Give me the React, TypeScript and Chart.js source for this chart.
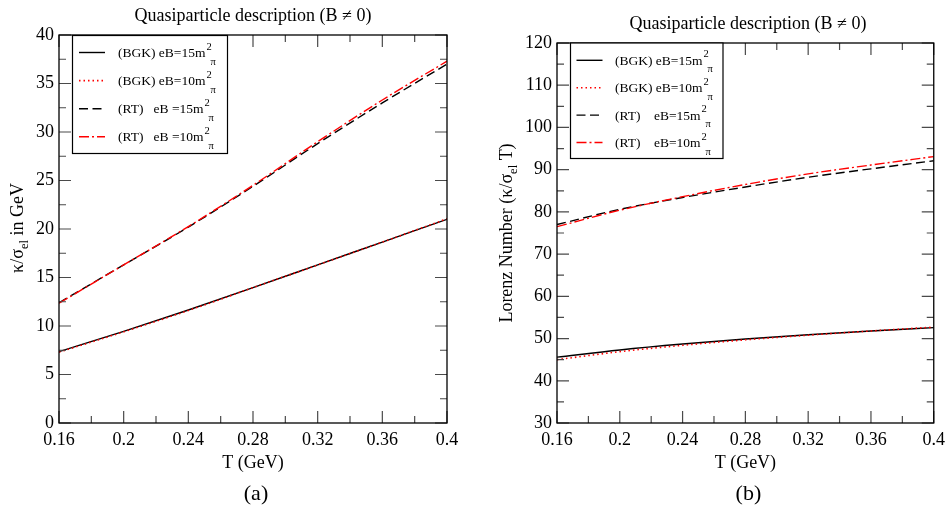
import React, { useEffect, useRef } from "react";
import { Chart, registerables } from "chart.js";

Chart.register(...registerables);

const FONT = "'Liberation Serif', 'Times New Roman', serif";
Chart.defaults.font.family = FONT;
Chart.defaults.color = "#000";

// Temperature grid (GeV) shared by all curves
const temperatures = [0.16, 0.2, 0.24, 0.28, 0.32, 0.36, 0.4];
const temperatureTicks = [0.16, 0.2, 0.24, 0.28, 0.32, 0.36, 0.4];

// (a) thermal conductivity over electrical conductivity, kappa/sigma_el (GeV)
const kappaBGK15 = [7.35, 9.45, 11.65, 13.95, 16.3, 18.65, 21.0];
const kappaBGK10 = [7.3, 9.4, 11.6, 13.95, 16.3, 18.65, 21.05];
const kappaRT15 = [12.4, 16.3, 20.2, 24.4, 28.8, 33.0, 37.0];
const kappaRT10 = [12.35, 16.3, 20.25, 24.5, 29.0, 33.3, 37.3];
const kappaTicks = [0, 5, 10, 15, 20, 25, 30, 35, 40];

// (b) Lorenz number, kappa/(sigma_el T)
const lorenzBGK15 = [45.6, 47.3, 48.7, 49.9, 50.9, 51.8, 52.6];
const lorenzBGK10 = [45.0, 46.9, 48.4, 49.7, 50.8, 51.8, 52.7];
const lorenzRT15 = [77.0, 80.6, 83.4, 85.9, 88.2, 90.2, 92.1];
const lorenzRT10 = [76.5, 80.4, 83.6, 86.5, 89.0, 91.1, 93.1];
const lorenzTicks = [30, 40, 50, 60, 70, 80, 90, 100, 110, 120];

const legendLabelsA = ["(BGK) eB=15m", "(BGK) eB=10m", "(RT)   eB =15m", "(RT)   eB =10m"];
const legendLabelsB = ["(BGK) eB=15m", "(BGK) eB=10m", "(RT)    eB=15m", "(RT)    eB=10m"];

const TITLE = "Quasiparticle description (B \u2260 0)";

type Part = { text: string; size: number; dy?: number };

type PanelSpec = {
  offsetX: number;
  width: number;
  height: number;
  padding: { top: number; right: number; bottom: number; left: number };
  yAxisWidth: number;
  xAxisHeight: number;
  yMin: number;
  yMax: number;
  yTicks: number[];
  series: number[][];
  legendLabels: string[];
  title: { x: number; y: number };
  xTitleY: number;
  panelLabel: string;
  panelLabelY: number;
  yTitle: { x: number; y: number; parts: Part[] };
  legend: { x: number; y: number; w: number; h: number; row0: number; rowStep: number; line0: number; line1: number; text: number };
};

const LINE_STYLES = [
  { color: "#000000", dash: [] as number[], width: 1.4, order: 1 },
  { color: "#ff0000", dash: [1.5, 3], width: 1.6, order: 0 },
  { color: "#000000", dash: [9, 4.5], width: 1.4, order: 1 },
  { color: "#ff0000", dash: [10, 3, 2, 3], width: 1.4, order: 0 },
];

const panelA: PanelSpec = {
  offsetX: 0,
  width: 476,
  height: 511,
  padding: { top: 35, right: 29, bottom: 0, left: 0 },
  yAxisWidth: 59,
  xAxisHeight: 88,
  yMin: 0,
  yMax: 40,
  yTicks: kappaTicks,
  series: [kappaBGK15, kappaBGK10, kappaRT15, kappaRT10],
  legendLabels: legendLabelsA,
  title: { x: 253, y: 15 },
  xTitleY: 462,
  panelLabel: "(a)",
  panelLabelY: 493,
  yTitle: {
    x: 17,
    y: 228,
    parts: [
      { text: "\u03ba/\u03c3", size: 18 },
      { text: "el", size: 12.5, dy: 5 },
      { text: " in GeV", size: 18 },
    ],
  },
  legend: { x: 72.5, y: 35.5, w: 155, h: 118, row0: 17, rowStep: 28.1, line0: 79, line1: 105, text: 118 },
};

const panelB: PanelSpec = {
  offsetX: 476,
  width: 475,
  height: 511,
  padding: { top: 43, right: 13, bottom: 0, left: 0 },
  yAxisWidth: 81,
  xAxisHeight: 88,
  yMin: 30,
  yMax: 120,
  yTicks: lorenzTicks,
  series: [lorenzBGK15, lorenzBGK10, lorenzRT15, lorenzRT10],
  legendLabels: legendLabelsB,
  title: { x: 272, y: 22.5 },
  xTitleY: 462,
  panelLabel: "(b)",
  panelLabelY: 493,
  yTitle: {
    x: 30,
    y: 233,
    parts: [
      { text: "Lorenz Number (\u03ba/\u03c3", size: 18 },
      { text: "el", size: 12.5, dy: 5 },
      { text: " T)", size: 18 },
    ],
  },
  legend: { x: 94.5, y: 43, w: 152.5, h: 115.5, row0: 17.3, rowStep: 27.4, line0: 100.5, line1: 126.5, text: 139 },
};

function drawRich(ctx: CanvasRenderingContext2D, parts: Part[], x: number, y: number, center: boolean) {
  let total = 0;
  for (const p of parts) {
    ctx.font = `${p.size}px ${FONT}`;
    total += ctx.measureText(p.text).width;
  }
  let cx = center ? x - total / 2 : x;
  ctx.textAlign = "left";
  ctx.textBaseline = "alphabetic";
  for (const p of parts) {
    ctx.font = `${p.size}px ${FONT}`;
    ctx.fillText(p.text, cx, y + (p.dy || 0));
    cx += ctx.measureText(p.text).width;
  }
}

function midpoints(values: number[]) {
  const out: number[] = [];
  for (let i = 0; i < values.length - 1; i++) out.push((values[i] + values[i + 1]) / 2);
  return out;
}

function makeDecor(spec: PanelSpec) {
  return {
    id: "panelDecor",
    afterDraw(chart: any) {
      const ctx: CanvasRenderingContext2D = chart.ctx;
      const { left, right, top, bottom } = chart.chartArea;
      const xs = chart.scales.x;
      const ys = chart.scales.y;
      const major = 12;
      const minor = 7;
      ctx.save();

      // inward ticks on all four sides
      ctx.strokeStyle = "#4a4a4a";
      ctx.lineWidth = 1.2;
      ctx.setLineDash([]);
      ctx.beginPath();
      const xTick = (v: number, len: number) => {
        const px = xs.getPixelForValue(v);
        ctx.moveTo(px, bottom);
        ctx.lineTo(px, bottom - len);
        ctx.moveTo(px, top);
        ctx.lineTo(px, top + len);
      };
      const yTick = (v: number, len: number) => {
        const py = ys.getPixelForValue(v);
        ctx.moveTo(left, py);
        ctx.lineTo(left + len, py);
        ctx.moveTo(right, py);
        ctx.lineTo(right - len, py);
      };
      temperatureTicks.forEach((v) => xTick(v, major));
      midpoints(temperatureTicks).forEach((v) => xTick(v, minor));
      spec.yTicks.forEach((v) => yTick(v, major));
      midpoints(spec.yTicks).forEach((v) => yTick(v, minor));
      ctx.stroke();

      // frame
      ctx.strokeStyle = "#000";
      ctx.lineWidth = 1.3;
      ctx.strokeRect(left, top, right - left, bottom - top);

      // legend box
      const lg = spec.legend;
      ctx.fillStyle = "#fff";
      ctx.fillRect(lg.x, lg.y, lg.w, lg.h);
      ctx.strokeStyle = "#000";
      ctx.lineWidth = 1.2;
      ctx.strokeRect(lg.x, lg.y, lg.w, lg.h);
      chart.data.datasets.forEach((ds: any, i: number) => {
        const cy = lg.y + lg.row0 + i * lg.rowStep;
        ctx.save();
        ctx.strokeStyle = ds.borderColor;
        ctx.lineWidth = ds.borderWidth;
        ctx.setLineDash(ds.borderDash || []);
        ctx.beginPath();
        ctx.moveTo(lg.line0, cy);
        ctx.lineTo(lg.line1, cy);
        ctx.stroke();
        ctx.restore();
        ctx.fillStyle = "#000";
        ctx.font = `13.5px ${FONT}`;
        ctx.textAlign = "left";
        ctx.textBaseline = "alphabetic";
        ctx.fillText(ds.label, lg.text, cy + 4.5);
        const w = ctx.measureText(ds.label).width;
        ctx.font = `10.5px ${FONT}`;
        ctx.fillText("2", lg.text + w + 1, cy - 3);
        ctx.fillText("\u03c0", lg.text + w + 5, cy + 12);
      });

      // titles and axis labels
      ctx.fillStyle = "#000";
      drawRich(ctx, [{ text: TITLE, size: 18 }], spec.title.x, spec.title.y + 6, true);
      const cx = (left + right) / 2;
      drawRich(ctx, [{ text: "T (GeV)", size: 18 }], cx, spec.xTitleY + 6, true);
      drawRich(ctx, [{ text: spec.panelLabel, size: 22 }], cx + 3, spec.panelLabelY + 7, true);

      ctx.save();
      ctx.translate(spec.yTitle.x, spec.yTitle.y);
      ctx.rotate(-Math.PI / 2);
      drawRich(ctx, spec.yTitle.parts, 0, 6, true);
      ctx.restore();

      ctx.restore();
    },
  };
}

function buildConfig(spec: PanelSpec): any {
  const datasets = spec.series.map((vals, i) => ({
    label: spec.legendLabels[i],
    data: temperatures.map((t, j) => ({ x: t, y: vals[j] })),
    borderColor: LINE_STYLES[i].color,
    borderDash: LINE_STYLES[i].dash,
    borderWidth: LINE_STYLES[i].width,
    pointRadius: 0,
    fill: false,
    cubicInterpolationMode: "monotone",
    order: LINE_STYLES[i].order,
  }));
  return {
    type: "line",
    data: { datasets },
    options: {
      responsive: false,
      animation: false,
      devicePixelRatio: 1,
      layout: { padding: spec.padding },
      plugins: {
        legend: { display: false },
        tooltip: { enabled: false },
        title: { display: false },
      },
      scales: {
        x: {
          type: "linear",
          min: 0.16,
          max: 0.4,
          grid: { display: false, drawTicks: false },
          border: { display: false },
          ticks: {
            font: { size: 18 },
            color: "#000",
            padding: 6,
            autoSkip: false,
            maxRotation: 0,
            callback: (v: any) => Number(v).toFixed(2).replace(/0$/, ""),
          },
          afterBuildTicks: (s: any) => {
            s.ticks = temperatureTicks.map((v) => ({ value: v }));
          },
          afterFit: (s: any) => {
            s.height = spec.xAxisHeight;
          },
        },
        y: {
          type: "linear",
          min: spec.yMin,
          max: spec.yMax,
          grid: { display: false, drawTicks: false },
          border: { display: false },
          ticks: {
            font: { size: 18 },
            color: "#000",
            padding: 5,
            autoSkip: false,
            callback: (v: any) => String(v),
          },
          afterBuildTicks: (s: any) => {
            s.ticks = spec.yTicks.map((v) => ({ value: v }));
          },
          afterFit: (s: any) => {
            s.width = spec.yAxisWidth;
          },
        },
      },
    },
    plugins: [makeDecor(spec)],
  };
}

function Panel({ spec }: { spec: PanelSpec }) {
  const ref = useRef<HTMLCanvasElement>(null);
  useEffect(() => {
    const chart = new Chart(ref.current as HTMLCanvasElement, buildConfig(spec));
    return () => chart.destroy();
  }, [spec]);
  return (
    <canvas
      ref={ref}
      width={spec.width}
      height={spec.height}
      style={{ position: "absolute", left: spec.offsetX, top: 0, width: spec.width, height: spec.height, display: "block" }}
    />
  );
}

export default function App() {
  return (
    <div style={{ position: "fixed", left: 0, top: 0, width: 951, height: 511, background: "#fff", overflow: "hidden" }}>
      <Panel spec={panelA} />
      <Panel spec={panelB} />
    </div>
  );
}
